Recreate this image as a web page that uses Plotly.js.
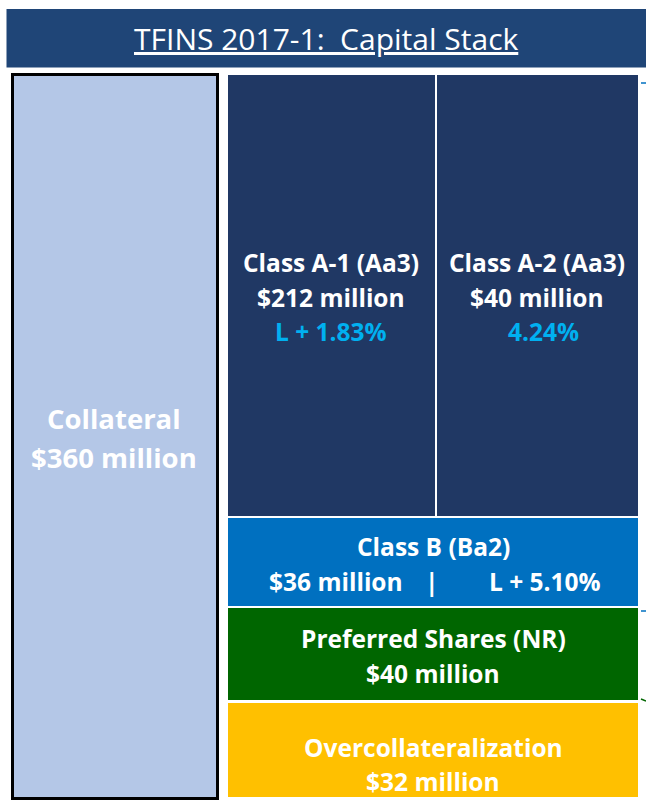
<!DOCTYPE html>
<html>
<head>
<meta charset="utf-8">
<script src="https://cdn.plot.ly/plotly-3.0.1.min.js"></script>
<style>html,body{margin:0;padding:0;background:#fff;}#chart{width:646px;height:800px;}</style>
</head>
<body>
<div id="chart"></div>
<script>
// ---- data ----
const chartTitle = "TFINS 2017-1:  Capital Stack";
const collateralLabel = "Collateral";
const collateralAmount = 360; // $ million
const tranches = ["Class A-1", "Class A-2", "Class B", "Preferred Shares", "Overcollateralization"];
const ratings = ["Aa3", "Aa3", "Ba2", "NR", ""];
const amounts = [212, 40, 36, 40, 32]; // $ million
const coupons = ["L + 1.83%", "4.24%", "L + 5.10%", "", ""];

// ---- schematic layout (pixel-like axis units; not proportional in the original) ----
const geom = {
  collateral: {x0: 12.5, x1: 217.5, y0: 74.5, y1: 798.5},
  boxes: [
    {x0: 228, x1: 434.5, y0: 75, y1: 515.5},
    {x0: 436.5, x1: 638, y0: 75, y1: 515.5},
    {x0: 228, x1: 638, y0: 517.8, y1: 606},
    {x0: 228, x1: 638, y0: 608.3, y1: 700},
    {x0: 228, x1: 638, y0: 702.7, y1: 797}
  ]
};
const colors = ["#203864", "#203864", "#0070C0", "#006600", "#FFC000"];
const font = "'Open Sans', Lato, sans-serif";

const traces = [];
// collateral bar
traces.push({
  type: "bar",
  x: [(geom.collateral.x0 + geom.collateral.x1) / 2],
  width: [geom.collateral.x1 - geom.collateral.x0],
  base: [geom.collateral.y0],
  y: [geom.collateral.y1 - geom.collateral.y0],
  marker: {color: "#B4C7E7", line: {color: "#000000", width: 3}},
  hoverinfo: "skip", showlegend: false
});
// tranche bars
traces.push({
  type: "bar",
  x: geom.boxes.map(b => (b.x0 + b.x1) / 2),
  width: geom.boxes.map(b => b.x1 - b.x0),
  base: geom.boxes.map(b => b.y0),
  y: geom.boxes.map(b => b.y1 - b.y0),
  marker: {color: colors, line: {width: 0}},
  text: tranches, textposition: "none",
  hoverinfo: "skip", showlegend: false
});

const ann = [];
function addText(x, y, text, size, color, bold) {
  ann.push({x: x, y: y, xref: "x", yref: "y", text: bold ? "<b>" + text + "</b>" : text,
    showarrow: false, font: {family: font, size: size, color: color}, xanchor: "center", yanchor: "middle"});
}
const white = "#FFFFFF", cyan = "#00B0F0";
const fs = 24.5;
// title
ann.push({x: 0.505, y: 38, xref: "paper", yref: "y", text: "<u>" + chartTitle + "</u>", showarrow: false,
  font: {family: font, size: 30, color: white}, xanchor: "center", yanchor: "middle"});
// collateral
addText(114, 418, collateralLabel, 27.5, white, true);
addText(114, 457, "$" + collateralAmount + " million", 27.5, white, true);
// A-1
addText(331, 262, tranches[0] + " (" + ratings[0] + ")", fs, white, true);
addText(331, 297, "$" + amounts[0] + " million", fs, white, true);
addText(331, 331, coupons[0], fs, cyan, true);
// A-2
addText(537, 262, tranches[1] + " (" + ratings[1] + ")", fs, white, true);
addText(537, 297, "$" + amounts[1] + " million", fs, white, true);
addText(543, 331, coupons[1], fs, cyan, true);
// B
addText(433, 546, tranches[2] + " (" + ratings[2] + ")", fs, white, true);
addText(336, 581, "$" + amounts[2] + " million", fs, white, true);
addText(432, 581, "|", fs, white, true);
addText(545, 581, coupons[2], fs, white, true);
// Preferred
addText(433, 638, tranches[3] + " (" + ratings[3] + ")", fs, white, true);
addText(433, 673, "$" + amounts[3] + " million", fs, white, true);
// OC
addText(433, 747, tranches[4], fs, white, true);
addText(433, 781, "$" + amounts[4] + " million", fs, white, true);

const layout = {
  width: 646, height: 800,
  margin: {l: 0, r: 0, t: 0, b: 0},
  paper_bgcolor: "#FFFFFF", plot_bgcolor: "#FFFFFF",
  barmode: "overlay", bargap: 0,
  xaxis: {range: [0, 646], visible: false, fixedrange: true},
  yaxis: {range: [800, 0], visible: false, fixedrange: true},
  shapes: [
    {type: "rect", xref: "x", yref: "y", x0: 6.5, x1: 646, y0: 9, y1: 67.5, fillcolor: "#1F4577", line: {width: 0}, layer: "below"},
    {type: "line", xref: "x", yref: "y", x0: 641, x1: 646, y0: 83, y1: 83, line: {color: "#0070C0", width: 1.5}},
    {type: "line", xref: "x", yref: "y", x0: 641, x1: 646, y0: 611, y1: 611, line: {color: "#0070C0", width: 1.5}},
    {type: "line", xref: "x", yref: "y", x0: 641, x1: 646, y0: 699, y1: 701, line: {color: "#006600", width: 1.5}}
  ],
  annotations: ann
};

Plotly.newPlot("chart", traces, layout, {displayModeBar: false, staticPlot: true});
</script>
</body>
</html>
